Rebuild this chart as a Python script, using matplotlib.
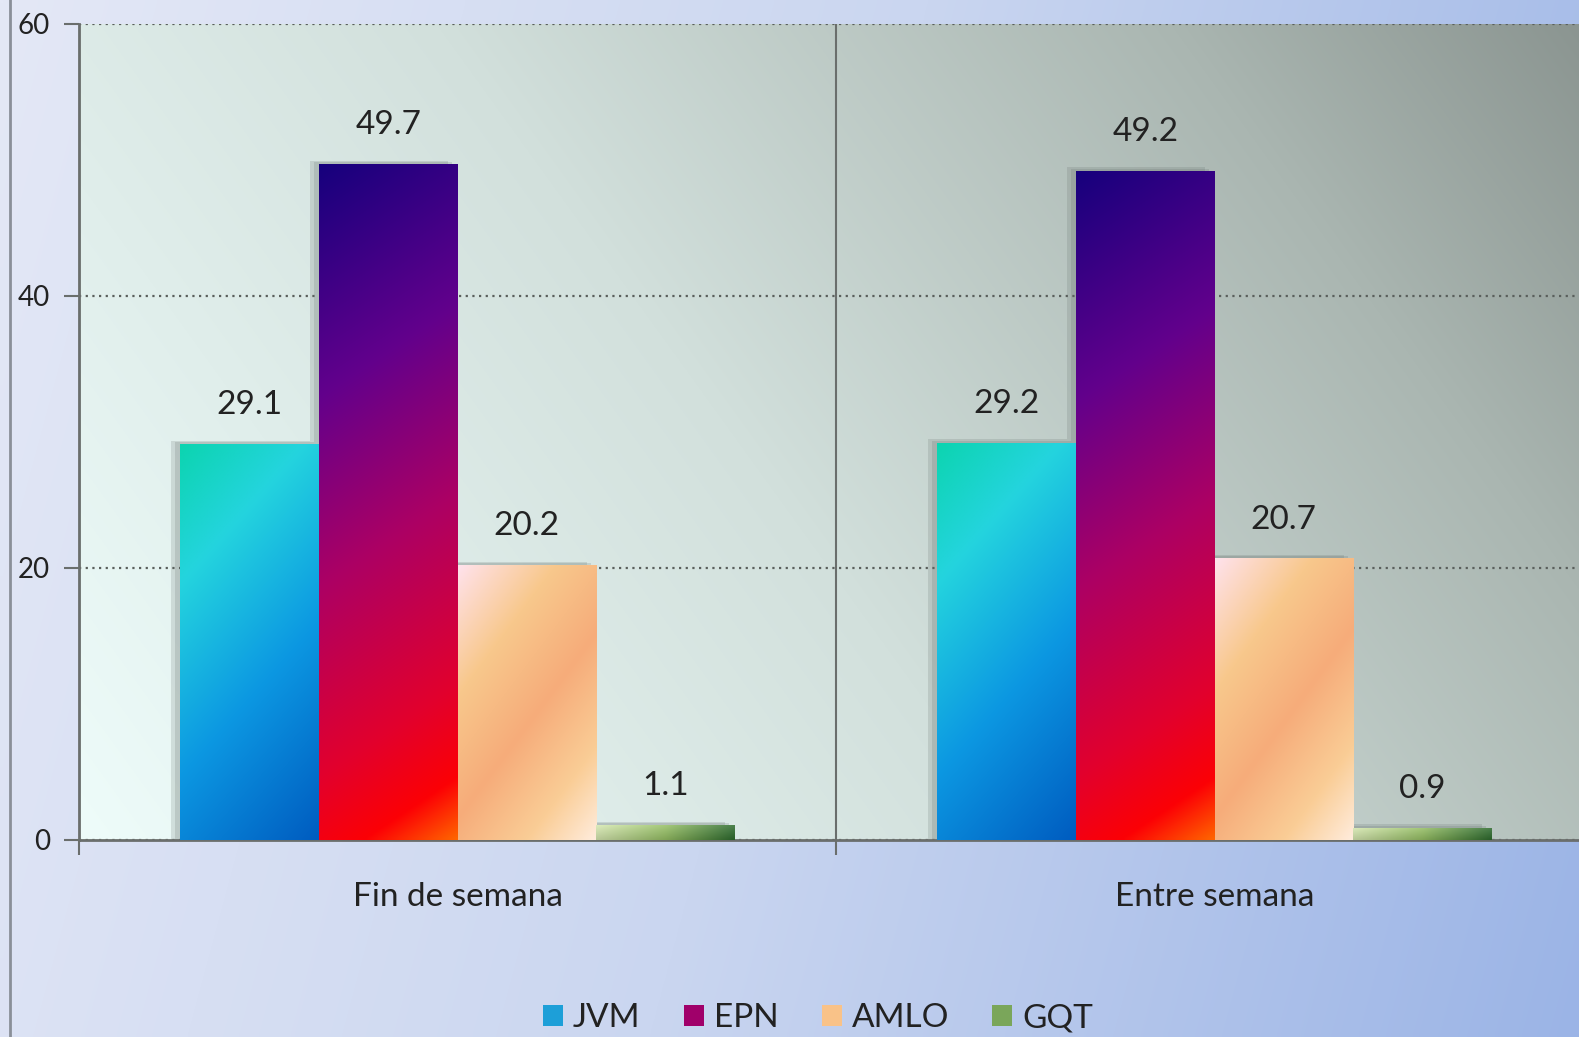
import numpy as np
import matplotlib
matplotlib.use("Agg")
import matplotlib.pyplot as plt
from matplotlib.patches import Patch

# ---- data ----
categories = ["Fin de semana", "Entre semana"]
series_names = ["JVM", "EPN", "AMLO", "GQT"]
jvm = [29.1, 29.2]
epn = [49.7, 49.2]
amlo = [20.2, 20.7]
gqt = [1.1, 0.9]
yticks = [0, 20, 40, 60]

series_values = [jvm, epn, amlo, gqt]

plt.rcParams['font.family'] = ['Lato', 'DejaVu Sans']

W, H = 1579, 1037
fig = plt.figure(figsize=(W / 100, H / 100), dpi=100)


def ramp(stops, t):
    t = np.clip(t, 0, 1)
    pos = np.array([s[0] for s in stops])
    cols = np.array([s[1] for s in stops], dtype=float) / 255.0
    out = np.zeros(t.shape + (3,))
    for c in range(3):
        out[..., c] = np.interp(t, pos, cols[:, c])
    return out


# figure background gradient
bg = fig.add_axes([0, 0, 1, 1], zorder=-10)
bg.set_axis_off()
uu, vv = np.meshgrid(np.linspace(0, 1, 300), np.linspace(1, 0, 200))
bg_img = ramp([(0, (228, 232, 246)), (0.5, (202, 214, 240)), (1, (155, 180, 230))], 0.85 * uu + 0.15 * (1 - vv))
bg.imshow(bg_img, extent=[0, 1, 0, 1], aspect='auto', interpolation='bilinear')
bg.set_xlim(0, 1)
bg.set_ylim(0, 1)
bg.plot([10 / W, 10 / W], [0, 1], color='#8a8f98', lw=2)

# main axes (extends slightly past the right figure edge, as in the original)
left = 79 / W
bottom = 1 - 840 / H
top = 1 - 24 / H
ax_w = 1514 / W
ax = fig.add_axes([left, bottom, ax_w, top - bottom])
ax.patch.set_alpha(0)

nx, ny = 400, 300
uu, vv = np.meshgrid(np.linspace(0, 1, nx), np.linspace(1, 0, ny))
pa = ramp([(0, (238, 252, 250)), (0.45, (210, 224, 220)), (0.8, (170, 182, 177)), (1, (138, 148, 144))],
          0.72 * uu + 0.28 * vv)
ax.imshow(pa, extent=[0, 1, 0, 1], transform=ax.transAxes, aspect='auto',
          interpolation='bilinear', zorder=0)

ax.set_xlim(-0.5, 1.5)
ax.set_ylim(0, 60)

w = 0.183
offsets = (np.arange(4) - 1.5) * w
x = np.arange(len(categories))

grad_specs = [
    dict(stops=[(0, (12, 212, 176)), (0.25, (36, 212, 222)), (0.6, (12, 152, 226)), (1, (0, 92, 192))], a=0.72, b=0.28),
    dict(stops=[(0, (22, 0, 125)), (0.3, (98, 0, 140)), (0.55, (172, 0, 100)), (0.8, (226, 0, 45)),
                (0.92, (252, 0, 5)), (1, (255, 100, 0))], a=0.88, b=0.12),
    dict(stops=[(0, (255, 226, 236)), (0.28, (248, 200, 140)), (0.55, (246, 172, 122)),
                (0.8, (250, 205, 150)), (1, (255, 236, 220))], a=0.6, b=0.4),
    dict(stops=[(0, (214, 232, 176)), (0.5, (150, 192, 100)), (1, (46, 108, 46))], a=0.0, b=1.0),
]

for i, (vals, spec) in enumerate(zip(series_values, grad_specs)):
    # soft shadow (left/up)
    for k, (dx, dy, al) in enumerate([(-0.012, 0.25, 0.18), (-0.007, 0.15, 0.18)]):
        ax.bar(x + offsets[i] + dx, np.array(vals) + dy, width=w, color='#5e6864', alpha=al,
               zorder=1, linewidth=0)
    bc = ax.bar(x + offsets[i], vals, width=w, color='none', linewidth=0, zorder=2, label=series_names[i])
    for p in bc.patches:
        x0, y0 = p.get_x(), p.get_y()
        bw, bh = p.get_width(), p.get_height()
        gu, gv = np.meshgrid(np.linspace(0, 1, 60), np.linspace(1, 0, 200))
        if i == 3:
            img = ramp(spec['stops'], gu)
            img = img * 0.85 + 0.15 * (gv[..., None] * 1.0)
        else:
            t = spec['a'] * (1 - gv) + spec['b'] * gu
            img = ramp(spec['stops'], t)
        im = ax.imshow(img, extent=[x0, x0 + bw, y0, y0 + bh], aspect='auto',
                       interpolation='bilinear', zorder=3)
        im.set_clip_path(p)
    for p, v in zip(bc.patches, vals):
        ax.annotate(f"{v:.1f}", (p.get_x() + p.get_width() / 2, v), xytext=(0, 28),
                    textcoords='offset points', ha='center', va='center',
                    fontsize=24, color='#222222', zorder=5)

# grid
ax.set_yticks(yticks)
ax.yaxis.grid(True, linestyle=(0, (1, 2)), color='#5a5f5c', linewidth=1.6, zorder=1)
ax.set_axisbelow(True)

ax.set_xticks([-0.5, 0.5, 1.5])
ax.set_xticklabels([])
ax.set_xticks(x, minor=True)
ax.set_xticklabels(categories, minor=True)
ax.tick_params(axis='x', which='minor', length=0, pad=30, labelsize=24, labelcolor='#222222')
ax.tick_params(axis='x', which='major', length=11, width=1.5, color='#6a6e6c', direction='out')
ax.tick_params(axis='y', which='major', length=11, width=1.5, color='#6a6e6c', direction='out',
               pad=10, labelsize=20, labelcolor='#222222')
ax.xaxis.grid(True, which='major', color='#6a6e6c', linewidth=1.5, linestyle='-')

for s in ['top', 'right']:
    ax.spines[s].set_visible(False)
for s in ['left', 'bottom']:
    ax.spines[s].set_color('#6a6e6c')
    ax.spines[s].set_linewidth(2)

legend_colors = ['#1d9fd8', '#a0006a', '#f9c288', '#7aa65a']
handles = [Patch(facecolor=c, edgecolor='none') for c in legend_colors]
fig.legend(handles, series_names, loc='center', bbox_to_anchor=(818 / W, 1 - 1018 / H), ncol=4,
           frameon=False, fontsize=24, handlelength=0.6, handleheight=0.6, handletextpad=0.3,
           columnspacing=1.3, labelcolor='#222222')

fig.savefig("out.png", dpi=100)
